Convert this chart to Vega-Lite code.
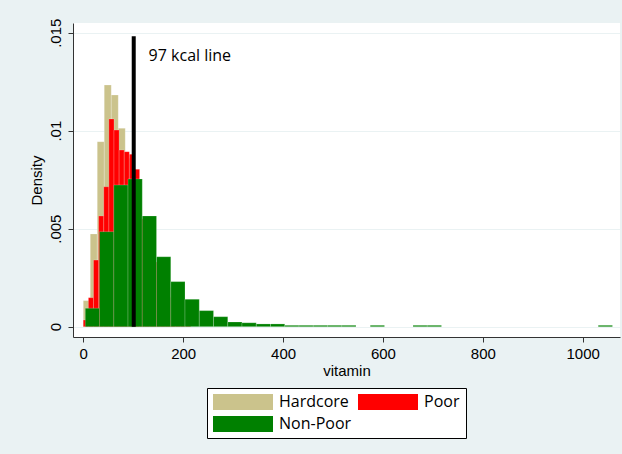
{
  "$schema": "https://vega.github.io/schema/vega-lite/v6.json",
  "width": 547,
  "height": 314,
  "autosize": {"type": "none"},
  "padding": {"left": 73, "top": 23, "right": 2, "bottom": 117},
  "background": "#eaf2f3",
  "config": {
    "view": {"fill": "#ffffff", "stroke": null},
    "axis": {
      "labelFont": "Liberation Sans",
      "titleFont": "Liberation Sans",
      "labelFontSize": 15,
      "titleFontSize": 15,
      "titleFontWeight": "normal",
      "labelColor": "#000000",
      "titleColor": "#000000",
      "domainColor": "#333333",
      "tickColor": "#333333",
      "tickSize": 5,
      "gridColor": "#eaf2f3",
      "gridWidth": 1
    }
  },
  "layer": [
    {
      "data": {
        "values": [
          {"group": "Hardcore", "lo": 0, "hi": 14, "density": 0.00133},
          {"group": "Hardcore", "lo": 14, "hi": 28, "density": 0.00473},
          {"group": "Hardcore", "lo": 28, "hi": 42, "density": 0.00944},
          {"group": "Hardcore", "lo": 42, "hi": 56, "density": 0.01233},
          {"group": "Hardcore", "lo": 56, "hi": 70, "density": 0.01182},
          {"group": "Hardcore", "lo": 70, "hi": 84, "density": 0.01012},
          {"group": "Hardcore", "lo": 84, "hi": 98, "density": 0.0086},
          {"group": "Hardcore", "lo": 98, "hi": 112, "density": 0.0068},
          {"group": "Hardcore", "lo": 112, "hi": 126, "density": 0.0047},
          {"group": "Hardcore", "lo": 126, "hi": 140, "density": 0.0028},
          {"group": "Hardcore", "lo": 140, "hi": 154, "density": 0.0015},
          {"group": "Hardcore", "lo": 154, "hi": 168, "density": 0.0007},
          {"group": "Hardcore", "lo": 168, "hi": 182, "density": 0.0003},
          {"group": "Poor", "lo": 0, "hi": 10.25, "density": 0.00034},
          {"group": "Poor", "lo": 10.25, "hi": 20.5, "density": 0.00148},
          {"group": "Poor", "lo": 20.5, "hi": 30.75, "density": 0.0034},
          {"group": "Poor", "lo": 30.75, "hi": 41, "density": 0.00565},
          {"group": "Poor", "lo": 41, "hi": 51.25, "density": 0.00714},
          {"group": "Poor", "lo": 51.25, "hi": 61.5, "density": 0.0106},
          {"group": "Poor", "lo": 61.5, "hi": 71.75, "density": 0.01003},
          {"group": "Poor", "lo": 71.75, "hi": 82, "density": 0.00901},
          {"group": "Poor", "lo": 82, "hi": 92.25, "density": 0.00893},
          {"group": "Poor", "lo": 92.25, "hi": 102.5, "density": 0.0088},
          {"group": "Poor", "lo": 102.5, "hi": 112.75, "density": 0.00803},
          {"group": "Poor", "lo": 112.75, "hi": 123, "density": 0.0055},
          {"group": "Poor", "lo": 123, "hi": 133.25, "density": 0.0048},
          {"group": "Poor", "lo": 133.25, "hi": 143.5, "density": 0.004},
          {"group": "Poor", "lo": 143.5, "hi": 153.75, "density": 0.0033},
          {"group": "Poor", "lo": 153.75, "hi": 164, "density": 0.0026},
          {"group": "Poor", "lo": 164, "hi": 174.25, "density": 0.002},
          {"group": "Poor", "lo": 174.25, "hi": 184.5, "density": 0.0015},
          {"group": "Poor", "lo": 184.5, "hi": 194.75, "density": 0.001},
          {"group": "Poor", "lo": 194.75, "hi": 205, "density": 0.0006},
          {"group": "Poor", "lo": 205, "hi": 215.25, "density": 0.0003},
          {"group": "Non-Poor", "lo": 4, "hi": 32.53, "density": 0.00094},
          {"group": "Non-Poor", "lo": 32.53, "hi": 61.06, "density": 0.00485},
          {"group": "Non-Poor", "lo": 61.06, "hi": 89.59, "density": 0.00723},
          {"group": "Non-Poor", "lo": 89.59, "hi": 118.12, "density": 0.00754},
          {"group": "Non-Poor", "lo": 118.12, "hi": 146.65, "density": 0.00565},
          {"group": "Non-Poor", "lo": 146.65, "hi": 175.18, "density": 0.00357},
          {"group": "Non-Poor", "lo": 175.18, "hi": 203.71, "density": 0.0023},
          {"group": "Non-Poor", "lo": 203.71, "hi": 232.24, "density": 0.0014},
          {"group": "Non-Poor", "lo": 232.24, "hi": 260.77, "density": 0.00082},
          {"group": "Non-Poor", "lo": 260.77, "hi": 289.3, "density": 0.00051},
          {"group": "Non-Poor", "lo": 289.3, "hi": 317.83, "density": 0.00024},
          {"group": "Non-Poor", "lo": 317.83, "hi": 346.36, "density": 0.0002},
          {"group": "Non-Poor", "lo": 346.36, "hi": 374.89, "density": 0.00014},
          {"group": "Non-Poor", "lo": 374.89, "hi": 403.42, "density": 0.00014},
          {"group": "Non-Poor", "lo": 403.42, "hi": 431.95, "density": 0.00007},
          {"group": "Non-Poor", "lo": 431.95, "hi": 460.48, "density": 0.00007},
          {"group": "Non-Poor", "lo": 460.48, "hi": 489.01, "density": 0.00007},
          {"group": "Non-Poor", "lo": 489.01, "hi": 517.54, "density": 0.00007},
          {"group": "Non-Poor", "lo": 517.54, "hi": 546.07, "density": 0.00007},
          {"group": "Non-Poor", "lo": 574.6, "hi": 603.13, "density": 0.00007},
          {"group": "Non-Poor", "lo": 660.19, "hi": 688.72, "density": 0.00007},
          {"group": "Non-Poor", "lo": 688.72, "hi": 717.25, "density": 0.00007},
          {"group": "Non-Poor", "lo": 1031.08, "hi": 1059.61, "density": 0.00007}
        ]
      },
      "mark": {"type": "rect", "stroke": "#ffffff", "strokeOpacity": 0.25, "strokeWidth": 0.8},
      "encoding": {
        "x": {
          "field": "lo",
          "type": "quantitative",
          "scale": {"domain": [-20.6, 1074.7], "nice": false, "zero": false},
          "axis": {"title": "vitamin", "values": [0, 200, 400, 600, 800, 1000], "format": "d", "grid": false, "labelPadding": 4, "titlePadding": 2}
        },
        "x2": {"field": "hi"},
        "y": {
          "field": "density",
          "type": "quantitative",
          "scale": {"domain": [-0.000526, 0.015495], "nice": false, "zero": false},
          "axis": {
            "title": "Density",
            "values": [0, 0.005, 0.01, 0.015],
            "labelExpr": "datum.value == 0 ? '0' : slice(format(datum.value, '.3~f'), 1)",
            "labelAngle": 270,
            "labelAlign": "center",
            "labelBaseline": "bottom",
            "labelPadding": 5,
            "titlePadding": 4,
            "grid": true
          }
        },
        "y2": {"datum": 0},
        "color": {
          "field": "group",
          "type": "nominal",
          "scale": {"domain": ["Hardcore", "Poor", "Non-Poor"], "range": ["#cbc38c", "#ff0000", "#008000"]},
          "sort": null,
          "legend": {
            "orient": "none",
            "legendX": 134,
            "legendY": 365,
            "direction": "horizontal",
            "columns": 2,
            "title": null,
            "labelExpr": "datum.label == 'Poor' ? 'Poor\u00a0\u00a0\u00a0\u00a0\u00a0\u00a0\u00a0' : datum.label",
            "symbolType": "M-3.75,-1H3.75V1H-3.75Z",
            "symbolSize": 256,
            "symbolOffset": 22,
            "symbolStrokeWidth": 0,
            "symbolOpacity": 1,
            "labelFont": "Open Sans",
            "labelFontSize": 16,
            "labelColor": "#000000",
            "labelOffset": 28,
            "fillColor": "#ffffff",
            "strokeColor": "#000000",
            "padding": 6,
            "rowPadding": 6,
            "columnPadding": 6,
            "cornerRadius": 0
          }
        }
      }
    },
    {
      "data": {"values": [{"lo": 101, "density": 0.01482}]},
      "mark": {"type": "rule", "color": "#000000", "strokeWidth": 4},
      "encoding": {
        "x": {"field": "lo", "type": "quantitative"},
        "y": {"field": "density", "type": "quantitative"},
        "y2": {"datum": 0}
      }
    },
    {
      "data": {"values": [{"lo": 130.8, "density": 0.01381, "label": "97 kcal line"}]},
      "mark": {"type": "text", "align": "left", "baseline": "middle", "font": "Open Sans", "fontSize": 16, "color": "#000000"},
      "encoding": {
        "x": {"field": "lo", "type": "quantitative"},
        "y": {"field": "density", "type": "quantitative"},
        "text": {"field": "label"}
      }
    }
  ]
}
